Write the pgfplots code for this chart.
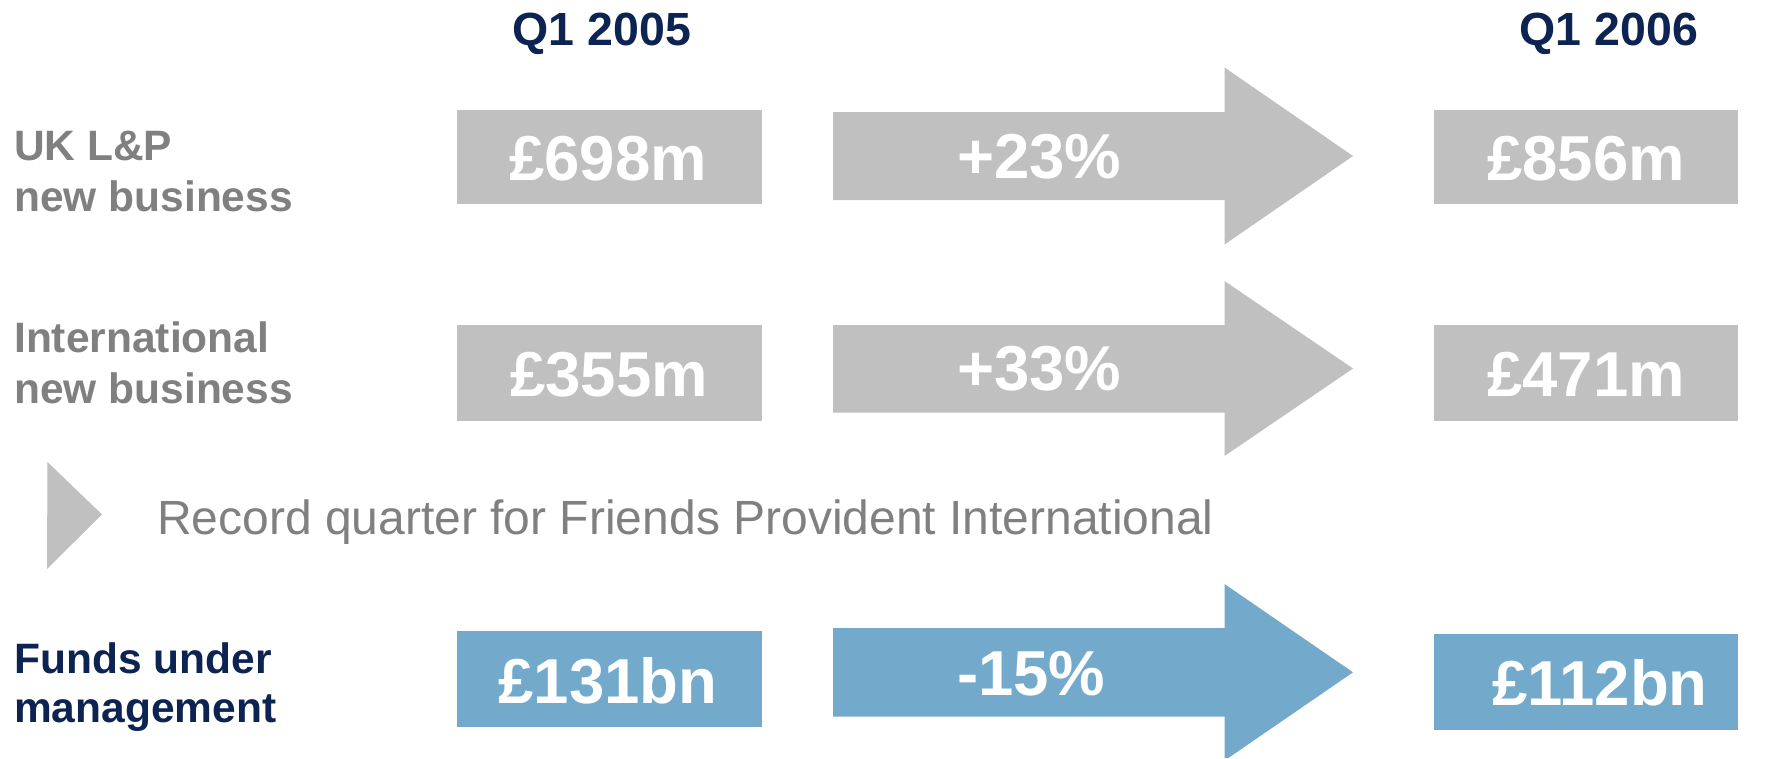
\documentclass[border=0pt]{standalone}
\usepackage{pgfplots}
\pgfplotsset{compat=1.18}
\usepackage{fontspec}
\setmainfont{Liberation Sans}
\usepackage{xcolor}

\definecolor{boxgray}{HTML}{C0C0C0}
\definecolor{labgray}{HTML}{808080}
\definecolor{navy}{HTML}{0D2352}
\definecolor{fundblue}{HTML}{73AACB}

\newcommand{\labfont}{\bfseries\fontsize{42.5}{51}\selectfont}
\newcommand{\valfont}{\bfseries\fontsize{63.5}{63.5}\selectfont}

\begin{document}
\begin{tikzpicture}
\begin{axis}[
    scale only axis, width=1770pt, height=758pt,
    xmin=0, xmax=1770, ymin=0, ymax=758, y dir=reverse,
    hide axis, clip=false,
    every axis plot/.append style={draw=none},
]
% page background
\addplot[fill=white] coordinates {(0,0)(1770,0)(1770,758)(0,758)} -- cycle;

% UK L&P row
\addplot[fill=boxgray] coordinates {(457,109.5)(762,109.5)(762,204.3)(457,204.3)} -- cycle;
\addplot[fill=boxgray] coordinates {(833,112)(1224.5,112)(1224.5,67.5)(1353,156)(1224.5,244.5)(1224.5,200)(833,200)} -- cycle;
\addplot[fill=boxgray] coordinates {(1433.6,109.5)(1738.4,109.5)(1738.4,204.3)(1433.6,204.3)} -- cycle;

% International row
\addplot[fill=boxgray] coordinates {(457,325)(762,325)(762,420.7)(457,420.7)} -- cycle;
\addplot[fill=boxgray] coordinates {(833,325)(1224.5,325)(1224.5,281)(1353,368.5)(1224.5,456)(1224.5,412.5)(833,412.5)} -- cycle;
\addplot[fill=boxgray] coordinates {(1433.6,325)(1738.4,325)(1738.4,420.7)(1433.6,420.7)} -- cycle;

% bullet triangle
\addplot[fill=boxgray] coordinates {(47.5,462)(102,514.5)(47,569)} -- cycle;

% Funds under management row
\addplot[fill=fundblue] coordinates {(457,631)(762,631)(762,726.5)(457,726.5)} -- cycle;
\addplot[fill=fundblue] coordinates {(833,628)(1224.5,628)(1224.5,584)(1353,672.3)(1228.3,758)(1224.5,758)(1224.5,716.7)(833,716.7)} -- cycle;
\addplot[fill=fundblue] coordinates {(1433.6,634.4)(1738.4,634.4)(1738.4,729.5)(1433.6,729.5)} -- cycle;

% column headers
\node[anchor=base, text=navy, font=\bfseries\fontsize{46.5}{46.5}\selectfont] at (axis cs:602,45) {Q1 2005};
\node[anchor=base, text=navy, font=\bfseries\fontsize{46.5}{46.5}\selectfont] at (axis cs:1609,45) {Q1 2006};

% row labels
\node[anchor=base west, text=labgray, font=\labfont, inner sep=0pt] at (axis cs:14,160.7) {UK L\&P};
\node[anchor=base west, text=labgray, font=\labfont, inner sep=0pt] at (axis cs:14,211.7) {new business};
\node[anchor=base west, text=labgray, font=\labfont, inner sep=0pt] at (axis cs:14,352.7) {International};
\node[anchor=base west, text=labgray, font=\labfont, inner sep=0pt] at (axis cs:14,403.3) {new business};
\node[anchor=base west, text=navy, font=\labfont, inner sep=0pt] at (axis cs:14,673.3) {Funds under};
\node[anchor=base west, text=navy, font=\labfont, inner sep=0pt] at (axis cs:14,722) {management};

% values
\node[anchor=base, text=white, font=\valfont] at (axis cs:608,180) {£698m};
\node[anchor=base, text=white, font=\valfont] at (axis cs:1586,180) {£856m};
\node[anchor=base, text=white, font=\valfont] at (axis cs:609,396.5) {£355m};
\node[anchor=base, text=white, font=\valfont] at (axis cs:1586,396.5) {£471m};
\node[anchor=base, text=white, font=\valfont] at (axis cs:608,703.3) {£131bn};
\node[anchor=base, text=white, font=\valfont] at (axis cs:1600,705.7) {£112bn};

% changes
\node[anchor=base west, text=white, font=\valfont, inner sep=0pt] at (axis cs:957,178.3) {+23\%};
\node[anchor=base west, text=white, font=\valfont, inner sep=0pt] at (axis cs:957,390) {+33\%};
\node[anchor=base west, text=white, font=\valfont, inner sep=0pt] at (axis cs:957,695) {-15\%};

% note
\node[anchor=base west, text=labgray, font=\fontsize{48}{48}\selectfont, inner sep=0pt] at (axis cs:157,534) {Record quarter for Friends Provident International};
\end{axis}
\end{tikzpicture}
\end{document}
